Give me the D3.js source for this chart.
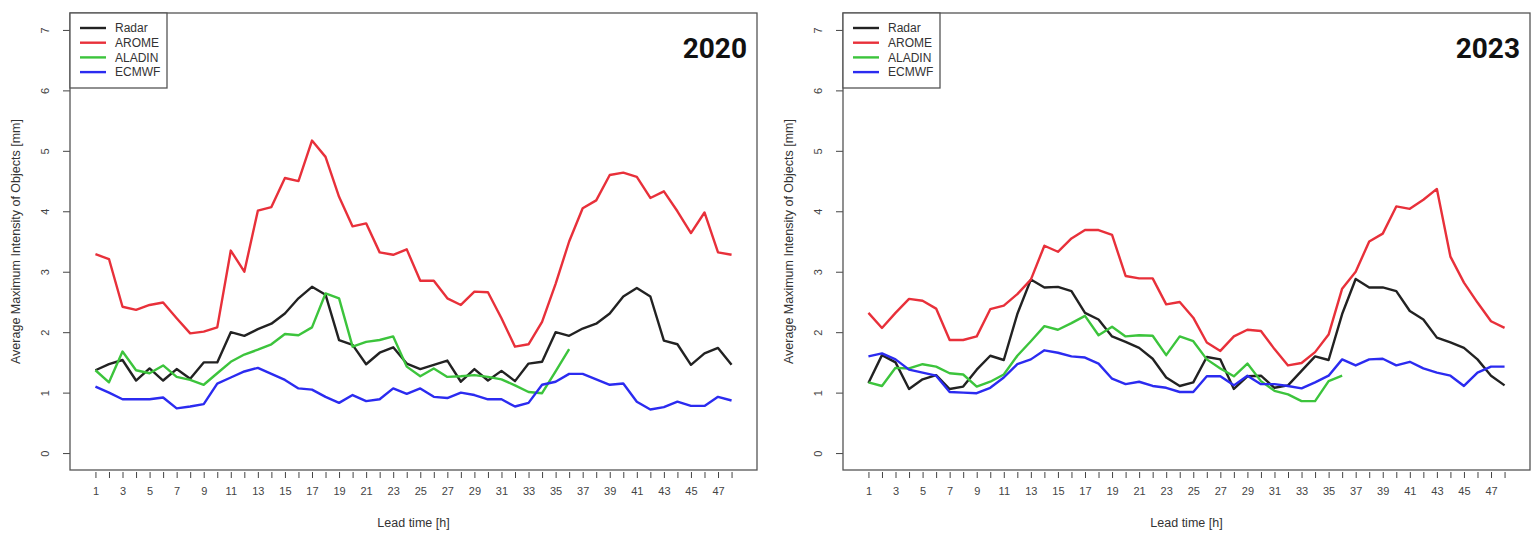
<!DOCTYPE html>
<html>
<head>
<meta charset="utf-8">
<script src="https://cdn.jsdelivr.net/npm/d3@7"></script>
<style>
  html, body { margin: 0; padding: 0; background: #fff; }
  svg { display: block; font-family: "Liberation Sans", Arial, sans-serif; }
</style>
</head>
<body>
<svg id="chart" width="1540" height="536"></svg>
<script>
const hours = [1, 2, 3, 4, 5, 6, 7, 8, 9, 10, 11, 12, 13, 14, 15, 16, 17, 18, 19, 20, 21, 22, 23, 24,
    25, 26, 27, 28, 29, 30, 31, 32, 33, 34, 35, 36, 37, 38, 39, 40, 41, 42, 43, 44, 45, 46, 47, 48];
const yTicks = [0, 1, 2, 3, 4, 5, 6, 7];
const seriesNames = ["Radar", "AROME", "ALADIN", "ECMWF"];
const seriesColors = ["#222222", "#e8303a", "#3cc43c", "#2b2bf0"];

// 2020
const radar2020 = [1.37, 1.47, 1.54, 1.20, 1.40, 1.20, 1.39, 1.23, 1.50, 1.50, 2.00, 1.94, 2.05, 2.14, 2.31, 2.56,
    2.75, 2.62, 1.87, 1.79, 1.47, 1.66, 1.75, 1.48, 1.39, 1.46, 1.53, 1.18, 1.39, 1.20, 1.36, 1.19,
    1.48, 1.51, 2.00, 1.94, 2.06, 2.14, 2.31, 2.59, 2.73, 2.59, 1.86, 1.80, 1.46, 1.65, 1.74, 1.46];
const arome2020 = [3.29, 3.21, 2.42, 2.37, 2.45, 2.49, 2.23, 1.98, 2.01, 2.08, 3.35, 3.00, 4.01, 4.07, 4.55, 4.50,
    5.17, 4.90, 4.24, 3.75, 3.80, 3.32, 3.28, 3.37, 2.85, 2.85, 2.56, 2.45, 2.67, 2.66, 2.23, 1.76,
    1.80, 2.17, 2.80, 3.50, 4.05, 4.18, 4.60, 4.64, 4.57, 4.22, 4.33, 4.00, 3.64, 3.98, 3.32, 3.28];
const aladin2020 = [1.37, 1.17, 1.68, 1.37, 1.32, 1.45, 1.26, 1.21, 1.13, 1.32, 1.51, 1.63, 1.71, 1.80, 1.97, 1.95,
    2.08, 2.64, 2.56, 1.76, 1.84, 1.87, 1.93, 1.43, 1.27, 1.40, 1.26, 1.27, 1.29, 1.26, 1.22, 1.12,
    1.01, 0.99, 1.35, 1.72];
const ecmwf2020 = [1.10, 1.00, 0.89, 0.89, 0.89, 0.92, 0.74, 0.77, 0.81, 1.15, 1.25, 1.35, 1.41, 1.31, 1.21, 1.07,
    1.05, 0.93, 0.83, 0.96, 0.86, 0.89, 1.07, 0.98, 1.07, 0.93, 0.91, 1.00, 0.96, 0.89, 0.89, 0.77,
    0.83, 1.13, 1.18, 1.31, 1.31, 1.22, 1.13, 1.15, 0.85, 0.72, 0.76, 0.85, 0.78, 0.78, 0.93, 0.87];

// 2023
const radar2023 = [1.16, 1.62, 1.50, 1.06, 1.22, 1.29, 1.06, 1.10, 1.38, 1.61, 1.54, 2.30, 2.87, 2.74, 2.75, 2.68,
    2.32, 2.21, 1.93, 1.84, 1.74, 1.56, 1.25, 1.11, 1.17, 1.59, 1.55, 1.06, 1.27, 1.28, 1.08, 1.12,
    1.36, 1.60, 1.54, 2.30, 2.88, 2.74, 2.74, 2.68, 2.35, 2.21, 1.91, 1.83, 1.74, 1.55, 1.28, 1.12];
const arome2023 = [2.32, 2.07, 2.32, 2.55, 2.52, 2.39, 1.87, 1.87, 1.93, 2.38, 2.44, 2.63, 2.87, 3.43, 3.33, 3.55,
    3.69, 3.69, 3.61, 2.93, 2.89, 2.89, 2.46, 2.50, 2.24, 1.83, 1.69, 1.93, 2.04, 2.02, 1.72, 1.45,
    1.49, 1.67, 1.96, 2.72, 3.00, 3.50, 3.63, 4.08, 4.04, 4.19, 4.37, 3.25, 2.82, 2.49, 2.18, 2.07];
const aladin2023 = [1.17, 1.11, 1.41, 1.40, 1.47, 1.43, 1.32, 1.30, 1.10, 1.18, 1.30, 1.61, 1.85, 2.10, 2.04, 2.15,
    2.27, 1.95, 2.09, 1.93, 1.95, 1.94, 1.62, 1.93, 1.85, 1.55, 1.40, 1.27, 1.48, 1.19, 1.03, 0.97,
    0.86, 0.86, 1.19, 1.28];
const ecmwf2023 = [1.60, 1.65, 1.55, 1.38, 1.33, 1.28, 1.01, 1.00, 0.99, 1.08, 1.25, 1.47, 1.55, 1.70, 1.66, 1.60,
    1.58, 1.48, 1.23, 1.14, 1.18, 1.11, 1.08, 1.01, 1.01, 1.27, 1.27, 1.12, 1.28, 1.14, 1.14, 1.11,
    1.07, 1.17, 1.28, 1.55, 1.45, 1.55, 1.56, 1.45, 1.51, 1.40, 1.33, 1.28, 1.11, 1.33, 1.43, 1.43];

const panels = [
    { year: "2020", left: 70, series: [radar2020, arome2020, aladin2020, ecmwf2020] },
    { year: "2023", left: 843, series: [radar2023, arome2023, aladin2023, ecmwf2023] }
];

const frameW = 687;
const frameTop = 13;
const frameBottom = 470;

const svg = d3.select("#chart");

function drawPanel(p) {
    const g = svg.append("g").attr("transform", "translate(" + p.left + ",0)");

    // R style: data range padded by 4% on each side
    const x = d3.scaleLinear([1 - 0.04 * 47, 48 + 0.04 * 47], [0, frameW]);
    const y = d3.scaleLinear([-0.28, 7.28], [frameBottom, frameTop]);

    // y axis
    const yAxis = g.append("g")
        .call(d3.axisLeft(y).tickValues(yTicks).tickSize(7).tickPadding(0).tickFormat(d3.format("d")));
    yAxis.select(".domain").remove();
    yAxis.selectAll(".tick line").attr("stroke", "#444");
    yAxis.selectAll(".tick text")
        .attr("font-size", 11)
        .attr("fill", "#444")
        .attr("text-anchor", "middle")
        .attr("transform", "translate(-25,0) rotate(-90)")
        .attr("x", 0)
        .attr("dy", "0.35em");

    // x axis
    const xAxis = g.append("g")
        .attr("transform", "translate(0," + (frameBottom + 2) + ")")
        .call(d3.axisBottom(x).tickValues(hours).tickSize(6).tickPadding(9)
            .tickFormat(d => d % 2 === 1 ? d : ""));
    xAxis.select(".domain").remove();
    xAxis.selectAll(".tick line").attr("stroke", "#444");
    xAxis.selectAll(".tick text").attr("font-size", 11).attr("fill", "#444");

    // lines
    const line = d3.line()
        .x((d, i) => x(hours[i]))
        .y(d => y(d));
    p.series.forEach((s, k) => {
        g.append("path")
            .datum(s)
            .attr("d", line)
            .attr("fill", "none")
            .attr("stroke", seriesColors[k])
            .attr("stroke-width", 2.4)
            .attr("stroke-linejoin", "round");
    });

    // frame
    g.append("rect")
        .attr("x", 0).attr("y", frameTop)
        .attr("width", frameW).attr("height", frameBottom - frameTop)
        .attr("fill", "none").attr("stroke", "#555").attr("stroke-width", 1.3);

    // legend
    const lg = g.append("g");
    lg.append("rect")
        .attr("x", 0).attr("y", frameTop)
        .attr("width", 97).attr("height", 75)
        .attr("fill", "#fff").attr("stroke", "#555").attr("stroke-width", 1.3);
    seriesNames.forEach((name, k) => {
        const ly = 28 + k * 14.7;
        lg.append("line")
            .attr("x1", 10).attr("x2", 36).attr("y1", ly).attr("y2", ly)
            .attr("stroke", seriesColors[k]).attr("stroke-width", 2.4);
        lg.append("text")
            .attr("x", 45).attr("y", ly).attr("dy", "0.35em")
            .attr("font-size", 12).attr("fill", "#333")
            .text(name);
    });

    // year label
    g.append("text")
        .attr("x", frameW - 10).attr("y", 58)
        .attr("text-anchor", "end")
        .attr("font-family", "Roboto, 'Liberation Sans', sans-serif")
        .attr("font-weight", "bold")
        .attr("font-size", 28)
        .attr("fill", "#111")
        .text(p.year);

    // axis titles
    g.append("text")
        .attr("transform", "translate(-50," + ((frameTop + frameBottom) / 2) + ") rotate(-90)")
        .attr("text-anchor", "middle")
        .attr("font-size", 12.5).attr("fill", "#333")
        .text("Average Maximum Intensity of Objects [mm]");
    g.append("text")
        .attr("x", frameW / 2).attr("y", 523).attr("dy", "0.35em")
        .attr("text-anchor", "middle")
        .attr("font-size", 12.5).attr("fill", "#333")
        .text("Lead time [h]");
}

panels.forEach(drawPanel);
</script>
</body>
</html>
